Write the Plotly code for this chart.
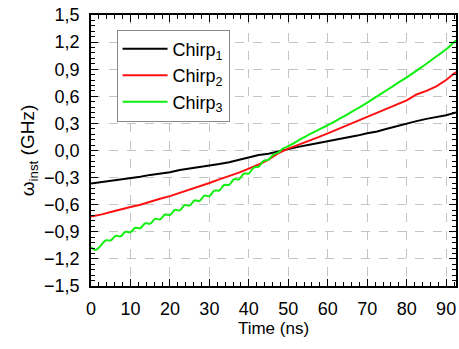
import plotly.graph_objects as go

# Chirp 1 (black)
t1 = [0, 2.5, 5, 7.5, 10, 12.5, 15, 17.5, 20, 22.5, 25, 27.5, 30, 32.5, 35, 37.5, 40, 42.5, 45, 47.5,
      50, 52.5, 55, 57.5, 60, 62.5, 65, 67.5, 70, 72.5, 75, 77.5, 80, 82.5, 85, 87.5, 90, 92.5]
y1 = [-0.365, -0.35, -0.34, -0.325, -0.305, -0.29, -0.27, -0.255, -0.24, -0.215, -0.20, -0.185, -0.165,
      -0.15, -0.13, -0.105, -0.075, -0.05, -0.035, -0.01, 0.02, 0.04, 0.06, 0.08, 0.10, 0.12, 0.14, 0.165,
      0.19, 0.21, 0.24, 0.27, 0.30, 0.325, 0.35, 0.37, 0.39, 0.42]

# Chirp 2 (red)
t2 = t1
y2 = [-0.73, -0.71, -0.68, -0.65, -0.625, -0.60, -0.565, -0.535, -0.505, -0.47, -0.435, -0.395, -0.36,
      -0.32, -0.285, -0.245, -0.20, -0.155, -0.10, -0.03, 0.02, 0.06, 0.10, 0.145, 0.19, 0.235, 0.28, 0.33,
      0.375, 0.42, 0.465, 0.51, 0.555, 0.62, 0.66, 0.71, 0.78, 0.87]

# Chirp 3 (green)
t3 = [0, 1.25, 2.5, 3.75, 5, 6.25, 7.5, 8.75, 10, 11.25, 12.5, 13.75, 15, 16.25, 17.5, 18.75, 20,
      21.25, 22.5, 23.75, 25, 26.25, 27.5, 28.75, 30, 31.25, 32.5, 33.75, 35, 36.25, 37.5, 38.75, 40,
      41.25, 42.5, 43.75, 45, 46.25, 47.5, 48.75, 50, 52.5, 55, 57.5, 60, 62.5, 65, 67.5, 70, 72.5, 75,
      77.5, 80, 82.5, 85, 87.5, 90, 92.5]
y3 = [-1.07, -1.10, -1.05, -0.995, -0.995, -0.945, -0.95, -0.90, -0.905, -0.855, -0.86, -0.805, -0.81,
      -0.757, -0.763, -0.709, -0.715, -0.658, -0.663, -0.605, -0.61, -0.553, -0.558, -0.50, -0.505,
      -0.445, -0.443, -0.382, -0.38, -0.318, -0.318, -0.256, -0.255, -0.19, -0.178, -0.115, -0.10,
      -0.045, -0.02, 0.025, 0.048, 0.11, 0.17, 0.225, 0.28, 0.34, 0.40, 0.465, 0.53, 0.60, 0.67, 0.74,
      0.81, 0.885, 0.96, 1.04, 1.12, 1.22]

names = ["Chirp<sub>1</sub>", "Chirp<sub>2</sub>", "Chirp<sub>3</sub>"]
colors = ["#000000", "#ff1010", "#10f010"]

yticks = [-1.5, -1.2, -0.9, -0.6, -0.3, 0.0, 0.3, 0.6, 0.9, 1.2, 1.5]
xticks = [0, 10, 20, 30, 40, 50, 60, 70, 80, 90]

fig = go.Figure()
for t, y, n, c, sh in [(t1, y1, names[0], colors[0], "linear"),
                       (t2, y2, names[1], colors[1], "linear"),
                       (t3, y3, names[2], colors[2], "spline")]:
    fig.add_trace(go.Scatter(x=t, y=y, mode="lines", name=n,
                             line=dict(color=c, width=2, shape=sh)))

font = "Liberation Sans, Arial, sans-serif"
axis_common = dict(
    showline=True, linecolor="black", linewidth=1.5, mirror="allticks",
    ticks="inside", ticklen=7, tickwidth=1, tickcolor="black",
    showgrid=True, gridcolor="#c4c4c4", griddash="dash", gridwidth=1,
    zeroline=False, tickfont=dict(family=font, size=18, color="black"),
)

fig.update_xaxes(range=[0, 92.5], tickvals=xticks, ticklabelstandoff=6,
                 title=dict(text="Time (ns)", font=dict(family=font, size=17, color="black"), standoff=4),
                 minor=dict(dtick=2, tick0=0, ticks="inside", ticklen=4, tickcolor="black", showgrid=False),
                 **axis_common)
fig.update_yaxes(range=[-1.5, 1.5], tickvals=yticks, tickformat=".1f", ticklabelstandoff=6,
                 title=dict(text="ω<sub>inst</sub> (GHz)", font=dict(family=font, size=19, color="black"), standoff=4),
                 minor=dict(dtick=0.06, tick0=-1.5, ticks="inside", ticklen=4, tickcolor="black", showgrid=False),
                 **axis_common)

fig.update_layout(
    width=459, height=349,
    margin=dict(l=91, r=1, t=15, b=63),
    paper_bgcolor="white", plot_bgcolor="white",
    separators=", ",
    legend=dict(x=0.07, y=0.946, xanchor="left", yanchor="top",
                bgcolor="white", bordercolor="#888888", borderwidth=1,
                font=dict(family=font, size=18, color="black"),
                tracegroupgap=0, itemwidth=45),
)

fig.write_html("out.html")
